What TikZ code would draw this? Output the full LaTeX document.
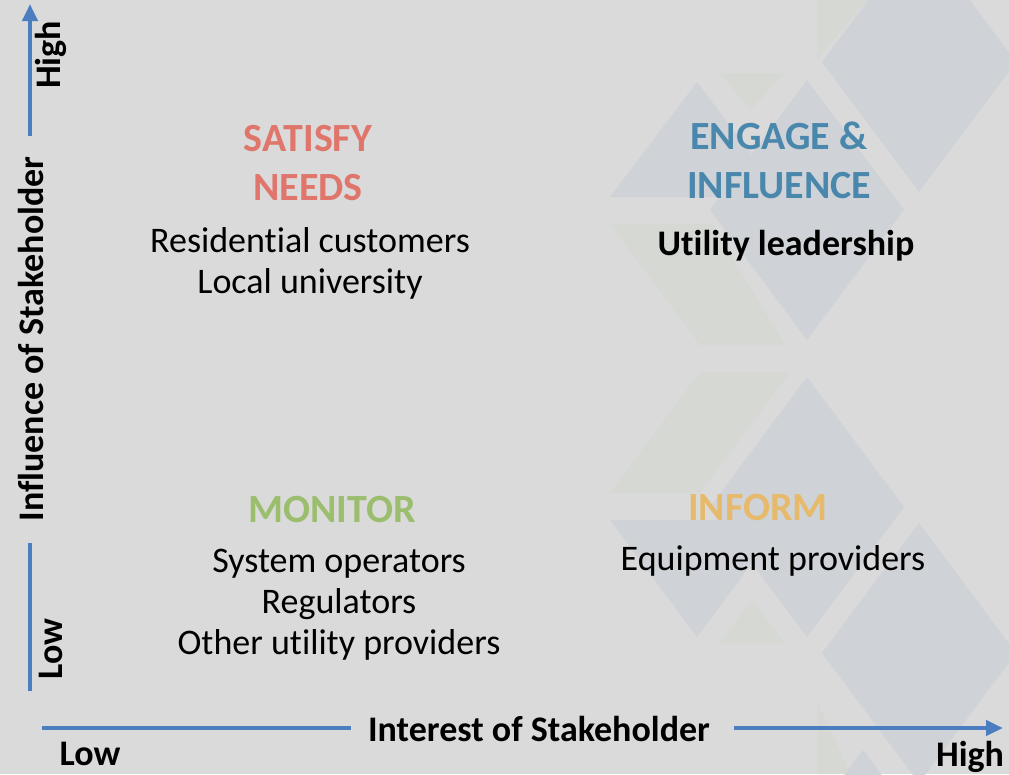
\documentclass[tikz,border=0pt]{standalone}
\usepackage{fontspec}
\setmainfont{Carlito}[Ligatures=NoCommon]
\usepackage{tikz}
\usetikzlibrary{arrows.meta}

\definecolor{bggray}{HTML}{DADADA}
\definecolor{tileblue}{HTML}{CFD3D7}
\definecolor{tilegreen}{HTML}{D6D9D3}
\definecolor{axisblue}{HTML}{4A7EC0}
\definecolor{satred}{HTML}{E0756B}
\definecolor{engblue}{HTML}{4A87AC}
\definecolor{mongreen}{HTML}{9BBE6E}
\definecolor{infgold}{HTML}{E6BA6A}

\begin{document}
\begin{tikzpicture}[x=1pt,y=-1pt,
    head/.style={font=\fontsize{40}{49}\selectfont\bfseries,align=center,anchor=base},
    item/.style={font=\fontsize{36}{41}\selectfont,align=center,anchor=base},
    axislabel/.style={font=\fontsize{36}{36}\selectfont\bfseries,inner sep=0pt},
    axisline/.style={line width=4pt,draw=axisblue},
    axistip/.style={-{Triangle[length=17pt,width=15pt]}}]

  % Background
  \useasboundingbox (0,0) rectangle (1009,774);
  \fill[bggray] (0,0) rectangle (1009,774);

  % Tiles
  \fill[tilegreen] (720,73) -- (785,73) -- (750,110) -- cycle;
  \fill[tilegreen] (817,0) -- (867,0) -- (817,60) -- cycle;
  \fill[tilegreen] (610,224) -- (712,224) -- (785,345) -- (700,345) -- cycle;
  \fill[tilegreen] (700,372) -- (790,372) -- (700,493) -- (610,493) -- cycle;
  \fill[tilegreen] (720,643) -- (785,643) -- (752,600) -- cycle;
  \fill[tilegreen] (817,700) -- (850,774) -- (817,774) -- cycle;
  \fill[tileblue] (610,197) -- (697,82) -- (784,197) -- cycle;
  \fill[tileblue] (610,520) -- (784,520) -- (697,637) -- cycle;
  \foreach \cx/\cy in {919/62, 807/210, 807/507, 919/653, 863/880}
    \fill[tileblue] (\cx-97,\cy) -- (\cx,\cy-130) -- (\cx+97,\cy) -- (\cx,\cy+130) -- cycle;

  % Quadrants
  \node[head,text=satred] (satisfy) at (308,200) {SATISFY\\NEEDS};
  \node[item] (satlist) at (310,293) {Residential customers\\Local university};

  \node[head,text=engblue] (engage) at (779,198) {ENGAGE \&\\INFLUENCE};
  \node[item,font=\fontsize{36}{41}\selectfont\bfseries] (englist) at (786,255) {Utility leadership};

  \node[head,text=mongreen] (monitor) at (332,522) {MONITOR};
  \node[item] (monlist) at (339,654) {System operators\\Regulators\\Other utility providers};

  \node[head,text=infgold] (inform) at (758,520) {INFORM};
  \node[item] (inflist) at (773,570) {Equipment providers};

  % Axes
  \node[axislabel,rotate=90] (infl) at (31,339) {Influence of Stakeholder};
  \node[axislabel,rotate=90] (vhigh) at (51,55) {High};
  \node[axislabel,rotate=90] (vlow) at (51,649) {Low};
  \coordinate (vbot) at (30,691);
  \coordinate (vtop) at (30,4);
  \draw[axisline] (vbot) -- (30,543);
  \draw[axisline,axistip] (30,136) -- (vtop);

  \node[axislabel,anchor=base] (interest) at (539,741) {Interest of Stakeholder};
  \node[axislabel,anchor=base] (hlow) at (90,765) {Low};
  \node[axislabel,anchor=base] (hhigh) at (970,766) {High};
  \coordinate (hleft) at (42,728);
  \coordinate (hright) at (1003,728);
  \draw[axisline] (hleft) -- (351,728);
  \draw[axisline,axistip] (734,728) -- (hright);
\end{tikzpicture}
\end{document}
